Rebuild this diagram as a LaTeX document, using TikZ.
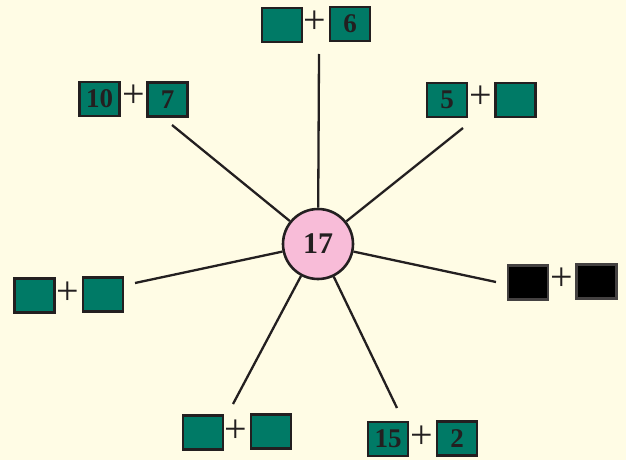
\documentclass[tikz,border=0pt]{standalone}
\usepackage{fontspec}
\setmainfont{Liberation Serif}
\definecolor{bgc}{RGB}{255,252,229}
\definecolor{teal}{RGB}{0,122,102}
\definecolor{pinkc}{RGB}{248,188,216}
\definecolor{ink}{RGB}{35,31,32}
\begin{document}
\begin{tikzpicture}[x=1pt,y=-1pt,
  numbox/.style={draw=ink, line width=2.6pt, fill=teal, minimum width=40pt, minimum height=34pt, inner sep=0pt, font=\fontsize{27}{27}\selectfont\bfseries, text=ink},
  blkbox/.style={draw=ink!85, line width=2.6pt, fill=black, minimum width=40pt, minimum height=34pt, inner sep=0pt},
  plus/.style={inner sep=0pt, font=\fontsize{40}{40}\selectfont, text=ink},
  spoke/.style={draw=ink, line width=2.3pt}]
\fill[bgc] (0,0) rectangle (626,460);
\useasboundingbox (0,0) rectangle (626,460);

\node[circle, draw=ink, line width=2.6pt, fill=pinkc, minimum size=70pt, inner sep=0pt, font=\fontsize{30}{30}\selectfont\bfseries, text=ink] (c) at (318,244) {17};

% top
\node[numbox] (t1) at (282,25) {};
\node[plus] (tp) at (315,22) {+};
\node[numbox] (t2) at (350,24) {6};
% top-left
\node[numbox] (tl1) at (99.5,99) {10};
\node[plus] (tlp) at (134,96) {+};
\node[numbox] (tl2) at (167.5,99.5) {7};
% top-right
\node[numbox] (tr1) at (447,100) {5};
\node[plus] (trp) at (481,97) {+};
\node[numbox] (tr2) at (515.5,100) {};
% right
\node[blkbox] (r1) at (528,282.5) {};
\node[plus] (rp) at (562,279) {+};
\node[blkbox] (r2) at (596.5,281.5) {};
% left
\node[numbox] (l1) at (34.5,295.5) {};
\node[plus] (lp) at (68,293) {+};
\node[numbox] (l2) at (103,294.5) {};
% bottom-left
\node[numbox] (bl1) at (203,432.5) {};
\node[plus] (blp) at (236,431) {+};
\node[numbox] (bl2) at (271,431.5) {};
% bottom-right
\node[numbox] (br1) at (388,439) {15};
\node[plus] (brp) at (422,437) {+};
\node[numbox] (br2) at (457,438.5) {2};

\coordinate (et) at (319,54);
\coordinate (etl) at (172,125);
\coordinate (etr) at (463,128);
\coordinate (el) at (135,283);
\coordinate (er) at (496,282);
\coordinate (ebl) at (233,404);
\coordinate (ebr) at (397,408);

\foreach \e in {et,etl,etr,el,er,ebl,ebr}
  \draw[spoke] (c) -- (\e);
\end{tikzpicture}
\end{document}
